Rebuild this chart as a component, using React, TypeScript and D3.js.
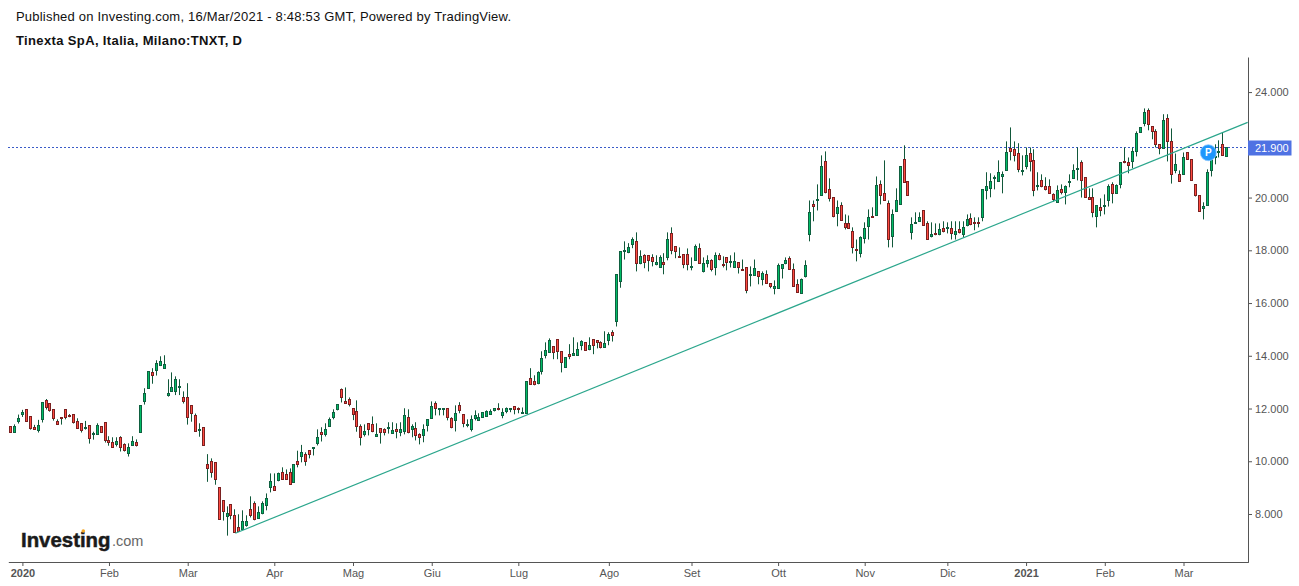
import React, { useEffect, useRef } from 'react';
import * as d3 from 'd3';

const opens = [
  11.33,11.12,11.54,11.77,11.97,11.71,11.29,11.16,11.58,12.31,
  12.20,11.97,11.52,11.67,11.97,11.72,11.78,11.52,11.44,11.26,
  11.36,11.01,11.01,11.33,11.48,10.80,10.72,10.63,10.91,10.64,
  10.29,10.59,10.72,11.10,12.26,12.77,13.37,13.44,13.65,13.54,
  12.49,12.64,12.64,12.83,12.43,12.43,12.12,11.74,11.16,11.29,
  9.89,10.00,9.96,9.01,8.52,7.91,8.37,7.95,7.49,7.40,
  7.56,8.18,8.40,7.83,8.02,8.33,9.00,9.05,9.28,9.58,
  9.50,9.58,9.20,10.00,10.19,10.26,10.41,10.49,10.68,11.10,
  11.02,11.32,11.66,11.97,12.73,12.27,12.35,12.01,11.89,11.32,
  11.02,11.44,11.40,10.94,11.25,11.21,11.28,11.06,11.21,11.10,
  11.13,11.67,11.21,11.25,11.02,10.98,11.36,11.63,12.20,12.00,
  11.97,12.01,11.63,11.55,12.12,11.78,11.38,11.21,11.63,11.55,
  11.67,11.70,11.78,11.93,12.01,11.74,11.89,12.00,12.09,12.01,
  11.82,11.82,13.15,13.03,12.96,13.40,14.02,14.13,14.36,14.62,
  14.17,13.56,14.06,14.02,14.02,14.40,14.51,14.25,14.62,14.59,
  14.51,14.32,14.59,14.89,15.31,16.82,17.95,17.92,18.23,18.34,
  17.51,17.81,17.81,17.73,17.47,17.36,17.54,17.73,18.64,18.15,
  17.77,17.84,17.84,17.38,17.62,18.07,17.20,17.50,17.62,17.35,
  17.81,17.47,17.73,17.57,17.35,17.54,17.28,17.35,17.07,17.05,
  17.20,16.90,17.09,16.74,16.56,16.56,17.31,17.50,17.69,17.28,
  16.71,16.37,17.01,18.60,19.74,19.92,20.08,21.37,20.31,20.01,
  19.40,19.70,19.02,19.02,18.72,18.03,17.88,18.45,18.89,19.29,
  19.32,20.50,20.16,19.78,18.53,19.48,19.74,21.45,20.61,18.68,
  19.02,19.10,19.51,19.02,18.53,18.64,18.60,18.83,18.86,18.83,
  18.60,18.79,18.60,18.95,19.21,19.06,19.06,19.25,20.27,20.35,
  20.73,20.61,20.80,21.03,21.87,21.83,21.68,21.03,21.18,21.68,
  21.41,20.42,20.65,20.42,20.42,20.12,19.82,20.31,20.20,20.58,
  20.73,21.09,21.33,20.77,20.00,20.00,19.29,19.63,19.69,19.89,
  20.50,20.16,20.50,21.37,21.33,21.37,21.75,22.47,22.81,23.31,
  22.70,22.51,22.02,21.87,23.00,22.13,21.03,20.88,20.88,21.71,
  21.45,20.50,20.08,19.59,19.70,21.03,21.51,21.71,22.02,21.56,
];

const highs = [
  11.33,11.40,11.77,11.95,11.97,11.71,11.38,11.57,12.24,12.36,
  12.20,11.97,11.59,11.67,11.97,11.79,11.78,11.63,11.44,11.53,
  11.36,11.12,11.44,11.33,11.48,10.95,10.91,10.91,10.95,10.68,
  10.68,10.95,10.83,12.12,12.77,13.41,13.53,13.83,13.98,14.02,
  13.11,13.37,13.22,13.11,12.65,12.96,12.12,11.81,11.44,11.29,
  10.27,10.11,9.96,9.01,8.52,8.29,8.37,8.18,7.99,8.14,
  7.95,8.67,8.48,8.29,8.48,8.78,9.54,9.54,9.57,9.77,
  9.69,9.73,9.88,10.40,10.62,10.34,10.41,10.53,11.21,11.29,
  11.44,11.66,11.97,12.16,12.76,12.80,12.42,12.01,12.31,11.40,
  11.40,11.44,11.70,11.44,11.25,11.25,11.48,11.48,11.44,11.48,
  12.01,11.97,11.40,11.48,11.06,11.40,11.59,12.27,12.27,12.01,
  12.01,12.01,11.67,12.12,12.24,11.78,11.59,11.74,11.93,11.82,
  11.86,11.93,11.97,12.01,12.20,12.01,12.04,12.01,12.09,12.04,
  12.04,13.03,13.53,13.26,13.41,14.17,14.51,14.66,14.36,14.62,
  14.17,13.94,14.44,14.70,14.51,14.59,14.51,14.70,14.62,14.59,
  14.55,14.93,14.89,14.97,17.09,17.96,18.34,18.27,18.49,18.68,
  18.00,17.85,17.81,17.85,17.81,17.81,17.89,18.68,18.87,18.15,
  18.11,17.84,18.07,17.73,18.22,18.26,17.73,17.81,17.66,17.92,
  17.89,17.77,17.73,17.81,17.92,17.54,17.65,17.35,17.39,17.65,
  17.20,17.20,17.24,16.74,16.86,17.50,17.47,17.73,17.77,17.50,
  16.90,16.93,17.62,19.89,19.89,20.50,21.60,21.75,20.73,20.01,
  19.89,19.82,19.36,19.32,18.87,18.41,18.53,19.06,19.55,19.63,
  20.80,20.65,21.41,19.89,19.55,20.35,21.18,21.98,20.61,19.25,
  19.44,19.44,19.51,19.10,19.06,19.02,19.02,19.10,19.06,19.10,
  19.10,19.10,19.10,19.36,19.40,19.25,19.25,20.31,20.96,20.92,
  20.84,21.41,20.99,22.13,22.66,22.13,22.06,21.60,21.90,21.90,
  21.83,20.96,20.88,20.77,20.69,20.16,20.46,20.50,20.46,20.88,
  21.26,21.90,21.41,20.77,20.35,20.35,19.70,19.97,20.12,20.50,
  20.58,20.50,21.33,21.90,21.52,21.90,22.51,22.66,23.38,23.38,
  22.70,22.59,22.02,23.16,23.16,22.62,21.67,21.03,21.71,21.71,
  21.45,20.50,20.08,19.82,21.07,21.67,22.02,22.17,22.47,21.90,
];

const lows = [
  11.12,11.09,11.43,11.68,11.52,11.20,11.20,11.09,11.47,11.96,
  11.88,11.54,11.39,11.39,11.59,11.67,11.43,11.24,11.09,11.20,
  10.67,10.82,11.01,11.12,10.71,10.59,10.52,10.56,10.37,10.37,
  10.18,10.59,10.56,11.10,12.15,12.77,12.94,13.25,13.61,13.50,
  12.45,12.64,12.51,12.51,12.19,11.39,11.50,11.12,10.93,10.59,
  9.22,9.38,9.11,7.80,7.75,7.18,7.80,7.29,7.33,7.40,
  7.52,7.87,7.76,7.83,7.99,8.14,8.82,8.90,9.24,9.31,
  9.29,9.11,9.20,9.77,9.96,9.83,10.11,10.22,10.60,10.75,
  10.94,11.32,11.59,11.93,12.23,12.20,12.08,11.56,11.12,10.60,
  10.94,10.98,11.10,10.94,10.67,10.98,11.05,11.06,10.87,10.95,
  11.02,11.06,10.91,10.79,10.64,10.72,11.13,11.63,11.74,11.74,
  11.74,11.55,11.25,11.13,11.82,11.29,11.29,11.13,11.55,11.55,
  11.67,11.70,11.78,11.89,11.93,11.63,11.82,11.86,11.78,11.82,
  11.82,11.82,12.92,12.88,12.92,13.29,13.90,14.13,13.87,13.87,
  13.37,13.56,13.87,14.02,14.02,14.21,14.21,14.21,14.06,14.28,
  14.28,14.32,14.40,14.54,15.11,16.58,17.65,17.89,18.08,17.20,
  17.47,17.32,17.20,17.39,17.43,17.36,17.09,17.62,17.85,17.70,
  17.73,17.32,17.24,17.24,17.62,17.50,17.16,17.35,17.20,17.05,
  17.62,17.35,17.24,17.35,17.35,17.12,17.24,16.37,16.63,17.05,
  16.71,16.67,16.74,16.56,16.33,16.56,16.93,17.47,17.28,16.63,
  16.40,16.37,16.97,18.34,19.10,19.51,20.08,20.16,19.85,19.25,
  18.91,19.13,18.79,18.83,17.88,17.58,17.73,18.26,18.41,19.25,
  19.32,19.74,19.89,18.11,18.11,19.48,19.74,20.58,20.08,18.41,
  19.02,19.10,18.95,18.41,18.49,18.57,18.57,18.68,18.64,18.41,
  18.41,18.64,18.49,18.91,18.95,18.76,18.87,19.10,19.93,20.01,
  20.31,20.61,20.16,21.03,21.41,21.37,20.96,20.84,21.07,20.99,
  20.05,20.27,20.39,20.27,20.16,19.85,19.82,20.12,19.74,20.39,
  20.73,20.65,20.00,20.00,19.93,19.25,18.87,19.29,19.36,19.66,
  19.78,20.16,20.35,21.30,20.92,21.11,21.56,22.47,22.70,22.55,
  22.21,21.90,21.64,21.87,21.37,20.53,20.92,20.61,20.88,21.45,
  20.65,20.04,19.48,19.17,19.70,20.80,21.26,21.52,21.60,21.56,
];

const closes = [
  11.12,11.33,11.64,11.86,11.52,11.24,11.20,11.36,12.24,12.03,
  11.92,11.62,11.39,11.62,11.67,11.67,11.47,11.24,11.16,11.29,
  10.86,11.04,11.36,11.12,10.78,10.71,10.52,10.74,10.52,10.40,
  10.53,10.76,10.59,12.12,12.58,13.41,13.25,13.72,13.79,13.68,
  12.58,12.81,13.11,12.84,12.26,11.69,11.81,11.12,11.21,10.62,
  9.72,9.60,9.30,7.80,8.10,8.02,7.95,7.29,7.33,7.72,
  7.72,7.95,7.80,8.06,8.40,8.59,9.24,8.90,9.54,9.31,
  9.31,9.11,9.88,9.88,10.34,10.00,10.26,10.53,10.91,11.02,
  11.21,11.59,11.85,12.16,12.42,12.20,12.16,11.78,11.32,10.91,
  11.13,11.21,11.13,11.02,11.10,11.10,11.29,11.17,11.13,11.21,
  11.74,11.10,11.33,10.98,10.91,11.21,11.59,12.09,12.01,12.01,
  12.01,11.67,11.29,11.82,11.93,11.44,11.40,11.59,11.74,11.67,
  11.86,11.89,11.89,12.01,11.98,11.86,12.01,12.01,11.97,11.97,
  11.86,13.03,12.92,12.92,13.37,13.90,14.21,14.59,14.13,14.17,
  13.74,13.94,13.98,14.09,14.25,14.55,14.21,14.40,14.40,14.51,
  14.32,14.47,14.81,14.78,17.09,17.96,18.00,18.11,18.42,17.51,
  17.77,17.54,17.62,17.58,17.54,17.73,17.47,18.42,18.00,17.96,
  17.73,17.47,17.47,17.39,18.15,17.50,17.50,17.62,17.28,17.81,
  17.65,17.45,17.54,17.58,17.58,17.35,17.26,16.48,17.09,17.31,
  17.01,17.12,16.74,16.63,16.63,17.43,17.47,17.62,17.28,16.63,
  16.40,16.90,17.43,19.44,19.66,19.93,21.18,20.20,19.97,19.29,
  19.63,19.13,18.87,18.83,18.11,18.00,18.49,18.83,19.25,19.25,
  20.46,20.08,19.89,18.41,19.36,19.89,21.18,20.58,20.08,18.98,
  19.06,19.25,18.95,18.41,18.60,18.60,18.79,18.72,18.87,18.64,
  18.72,18.68,18.87,19.17,18.98,19.02,19.05,20.31,20.42,20.61,
  20.77,20.96,20.88,21.71,21.75,21.60,21.07,21.04,21.60,21.37,
  20.27,20.46,20.42,20.31,20.16,19.93,20.27,20.20,20.42,20.61,
  21.03,21.11,20.65,20.00,19.93,19.44,19.70,19.52,19.70,20.42,
  20.16,20.46,21.33,21.33,21.22,21.75,22.43,22.66,23.23,22.78,
  22.51,22.02,21.87,22.93,22.13,20.88,21.26,20.61,21.52,21.45,
  20.65,20.08,19.48,19.66,20.95,21.52,21.55,21.75,21.60,21.90,
];

// Session index of the first bar of each month, and its label
const monthIndex = [3, 25, 45, 67, 87, 107, 129, 152, 173, 195, 217, 238, 258, 278, 298];
const monthLabels = ['2020', 'Feb', 'Mar', 'Apr', 'Mag', 'Giu', 'Lug', 'Ago', 'Set', 'Ott', 'Nov', 'Dic', '2021', 'Feb', 'Mar'];
// 22.000 sits behind the last price tag, so it is not listed
const priceTicks = [8, 10, 12, 14, 16, 18, 20, 24];

const lastPrice = 21.9;
const trendIndex = [57.1, 314.3];
const trendPrice = [7.27, 22.85];
const pinIndex = 304.3;
const pinPrice = 21.7;

const FONT = '"Liberation Sans", Arial, sans-serif';
const AXIS_COLOR = '#555555';

const App: React.FC = () => {
  const svgRef = useRef<SVGSVGElement | null>(null);

  useEffect(() => {
    if (!svgRef.current) return;
    const svg = d3.select(svgRef.current);
    svg.selectAll('*').remove();

    const x = d3.scaleLinear().domain([-0.58, 314.46]).range([8.3, 1248.3]);
    const y = d3.scaleLinear().domain([6.18, 25.33]).range([562, 57]);
    const px = (v: number) => Math.floor(v) + 0.5;

    // Header
    svg.append('text')
      .attr('x', 16).attr('y', 21)
      .attr('font-size', 13).attr('fill', '#111')
      .attr('textLength', 495).attr('lengthAdjust', 'spacing')
      .text('Published on Investing.com, 16/Mar/2021 - 8:48:53 GMT, Powered by TradingView.');
    svg.append('text')
      .attr('x', 16).attr('y', 45)
      .attr('font-size', 13).attr('font-weight', 'bold').attr('fill', '#111')
      .attr('textLength', 226).attr('lengthAdjust', 'spacing')
      .text('Tinexta SpA, Italia, Milano:TNXT, D');

    // Last price line
    svg.append('line')
      .attr('x1', 8).attr('x2', 1248)
      .attr('y1', px(y(lastPrice))).attr('y2', px(y(lastPrice)))
      .attr('stroke', '#3a5bc8').attr('stroke-dasharray', '2 2');

    // Candles
    const candles = d3.range(opens.length);
    const g = svg.append('g');
    g.selectAll('line.wick')
      .data(candles)
      .join('line')
      .attr('class', 'wick')
      .attr('x1', i => px(x(i))).attr('x2', i => px(x(i)))
      .attr('y1', i => y(highs[i])).attr('y2', i => y(lows[i]))
      .attr('stroke', '#11583a');
    g.selectAll('rect.body')
      .data(candles)
      .join('rect')
      .attr('class', 'body')
      .attr('x', i => px(x(i)) - 1)
      .attr('width', 2)
      .attr('y', i => px(y(Math.max(opens[i], closes[i]))))
      .attr('height', i => Math.max(1, Math.round(Math.abs(y(opens[i]) - y(closes[i])))))
      .attr('fill', i => (closes[i] >= opens[i] ? '#00bd66' : '#ff4a40'))
      .attr('stroke', i => (closes[i] >= opens[i] ? '#0f6040' : '#7a2020'));

    // Trend line
    const trend = d3.line<number>()
      .x(i => x(trendIndex[i]))
      .y(i => y(trendPrice[i]));
    svg.append('path')
      .attr('d', trend([0, 1]))
      .attr('fill', 'none')
      .attr('stroke', '#2ba68c')
      .attr('stroke-width', 1.2);

    // Axes
    const yAxis = d3.axisRight(y)
      .tickValues(priceTicks)
      .tickFormat(d3.format('.3f') as any)
      .tickSizeInner(4).tickSizeOuter(0).tickPadding(3);
    const yG = svg.append('g').attr('transform', 'translate(1248,0)').call(yAxis);

    const xAxis = d3.axisBottom(x)
      .tickValues(monthIndex)
      .tickFormat((_, i) => monthLabels[i])
      .tickSizeInner(4).tickSizeOuter(0).tickPadding(3);
    const xG = svg.append('g').attr('transform', 'translate(0,562)').call(xAxis);

    [yG, xG].forEach(a => {
      a.attr('font-family', FONT).attr('font-size', 11);
      a.selectAll('path,line').attr('stroke', AXIS_COLOR);
      a.selectAll('text').attr('fill', AXIS_COLOR);
    });
    xG.selectAll('text')
      .attr('font-weight', (_, i) => (monthLabels[i].length === 4 ? 'bold' : 'normal'));

    // Last price tag
    const tagY = y(lastPrice);
    svg.append('rect')
      .attr('x', 1248).attr('y', Math.round(tagY) - 6.5)
      .attr('width', 43.5).attr('height', 15)
      .attr('fill', '#4f72e3');
    svg.append('text')
      .attr('x', 1255).attr('y', tagY + 4.5)
      .attr('font-size', 11).attr('fill', '#fff')
      .text(d3.format('.3f')(lastPrice));

    // Pin
    svg.append('circle')
      .attr('cx', x(pinIndex)).attr('cy', y(pinPrice))
      .attr('r', 8)
      .attr('fill', '#1e96fc')
      .attr('stroke', '#8cc8fe').attr('stroke-width', 0.8);
    svg.append('text')
      .attr('x', x(pinIndex)).attr('y', y(pinPrice) + 3.5)
      .attr('text-anchor', 'middle')
      .attr('font-size', 10).attr('font-weight', 'bold').attr('fill', '#fff')
      .text('P');

    // Logo
    svg.append('text')
      .attr('x', 21).attr('y', 547)
      .attr('font-size', 20.4).attr('font-weight', 'bold').attr('fill', '#1a1a1a')
      .attr('stroke', '#1a1a1a').attr('stroke-width', 0.5)
      .text('Investing');
    svg.append('text')
      .attr('x', 112).attr('y', 546)
      .attr('font-size', 14.5).attr('fill', '#666')
      .text('.com');
    svg.append('circle')
      .attr('cx', 83.3).attr('cy', 531).attr('r', 1.8)
      .attr('fill', '#f5a623');
  }, []);

  return (
    <svg
      ref={svgRef}
      width={1299}
      height={586}
      fontFamily={FONT}
      style={{ position: 'absolute', left: 0, top: 0, background: '#fff' }}
    />
  );
};

export default App;
